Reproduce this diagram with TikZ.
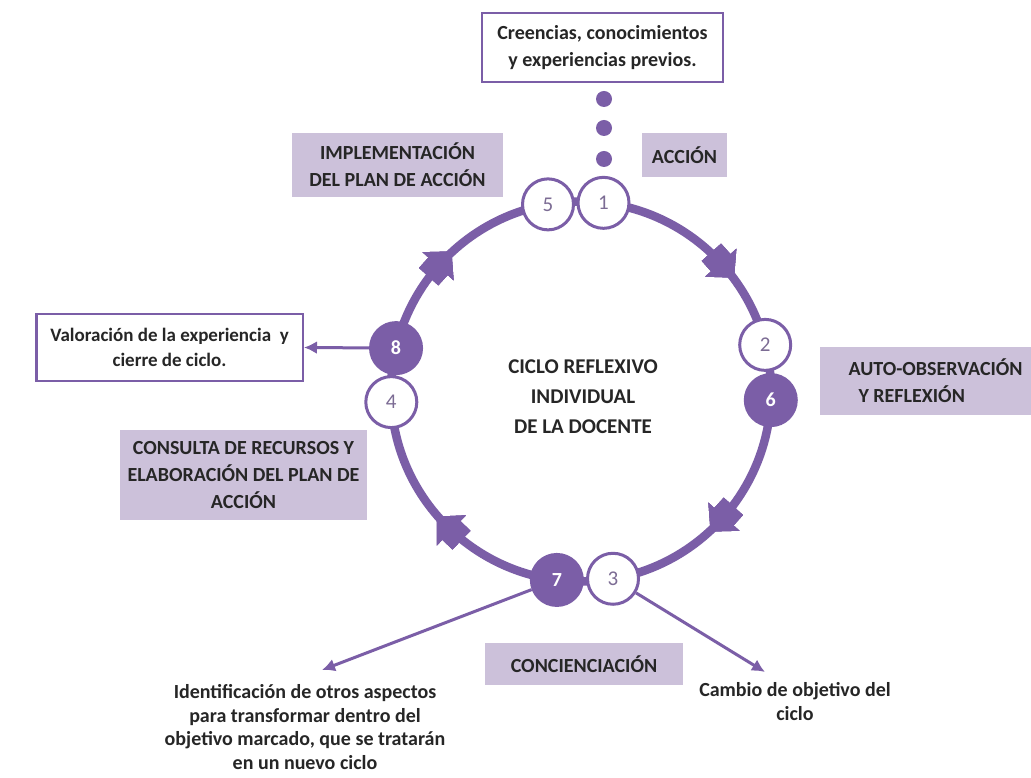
\documentclass[tikz,border=0pt]{standalone}
\usepackage{fontspec}
\setmainfont{Carlito}
\usetikzlibrary{arrows.meta,decorations.markings}
\definecolor{ringc}{HTML}{7B5EA7}
\definecolor{lav}{HTML}{CCC1DA}
\definecolor{txt}{HTML}{262626}
\definecolor{numc}{HTML}{7C6C94}
\begin{document}
\begin{tikzpicture}[x=1pt,y=1pt,
  lbl/.style={font=\fontsize{20}{27}\selectfont\bfseries, text=txt, align=center},
  tag/.style={lbl, fill=lav, inner sep=0pt},
  framed/.style={lbl, draw=ringc, line width=2.5pt, fill=white, inner sep=0pt},
  stepopen/.style={circle, draw=ringc, line width=3pt, fill=white, minimum size=51pt,
    inner sep=0pt, text=numc, font=\fontsize{21}{24}\selectfont},
  stepfull/.style={circle, draw=ringc, line width=3pt, fill=ringc, minimum size=51pt,
    inner sep=0pt, text=white, font=\fontsize{20}{24}\selectfont\bfseries},
  dotnode/.style={circle, fill=ringc, minimum size=16pt, inner sep=0pt},
  ring/.style={draw=ringc, line width=8.5pt},
  link/.style={draw=ringc, line width=3pt, -{Latex[length=13pt,width=13pt]}},
  % block arrow head laid along the ring, pointing in the drawing direction
  turn/.style={postaction=decorate, decoration={markings,
    mark=at position #1 with {\fill[ringc] (17pt,0pt) -- (-3pt,21pt) -- (-3pt,13pt)
      -- (-17pt,13pt) -- (-17pt,-13pt) -- (-3pt,-13pt) -- (-3pt,-21pt) -- cycle;}}},
]
% canvas
\fill[white] (0,0) rectangle (1031,778);
\useasboundingbox (0,0) rectangle (1031,778);

% centre of the cycle
\coordinate (C) at (581,386.5);

% the cycle ring, drawn clockwise from the top, with its four turning heads
\draw[ring, turn=0.134, turn=0.367, turn=0.622, turn=0.867]
  ([shift={(90:190pt)}]C) arc[start angle=90, end angle=-270, radius=190pt];

% stages on the ring
\node[stepopen] (s5) at ([shift={(100:190pt)}]C) {5};
\node[stepopen] (s1) at ([shift={(83.2:190pt)}]C) {1};
\node[stepopen] (s2) at ([shift={(14.2:190pt)}]C) {2};
\node[stepfull] (s6) at ([shift={(-2.6:190pt)}]C) {6};
\node[stepopen] (s3) at ([shift={(279.7:190pt)}]C) {3};
\node[stepfull] (s7) at ([shift={(262.7:190pt)}]C) {7};
\node[stepopen] (s4) at ([shift={(183.2:190pt)}]C) {4};
\node[stepfull] (s8) at ([shift={(166.8:190pt)}]C) {8};

% title in the middle
\node[lbl, font=\fontsize{21}{30}\selectfont\bfseries] (title) at (583,381)
  {CICLO REFLEXIVO\\INDIVIDUAL\\DE LA DOCENTE};

% prior beliefs box and its dotted lead-in
\node[framed, minimum width=241pt, minimum height=69pt] (prior) at (602.5,730.5)
  {Creencias, conocimientos\\y experiencias previos.};
\node[dotnode] (d1) at (604,679) {};
\node[dotnode] (d2) at (604,650) {};
\node[dotnode] (d3) at (604,619) {};

% phase labels
\node[tag, minimum width=211pt, minimum height=64pt] (impl) at (397.5,613)
  {IMPLEMENTACIÓN\\DEL PLAN DE ACCIÓN};
\node[tag, minimum width=85pt, minimum height=44pt] (accion) at (684.5,623) {ACCIÓN};
\fill[lav] (820,363) rectangle (1031,431);
\node[lbl, align=left, anchor=west] (auto) at (845,397)
  {AUTO-OBSERVACIÓN\\\hspace*{10pt}Y REFLEXIÓN};
\node[tag, minimum width=247pt, minimum height=90pt] (consulta) at (243.5,303)
  {CONSULTA DE RECURSOS Y\\ELABORACIÓN DEL PLAN DE\\ACCIÓN};
\node[tag, minimum width=198pt, minimum height=42pt] (concien) at (584,114)
  {CONCIENCIACIÓN};

% closing of the cycle
\node[framed, anchor=east, minimum height=67pt, inner xsep=14pt,
  font=\fontsize{19}{25}\selectfont\bfseries] (valor) at (304,430.5)
  {Valoración de la experiencia\ \ y\\cierre de ciclo.};
\draw[link] (s8) -- (valor.east);

% outcomes of awareness
\coordinate (tipL) at (322,108);
\coordinate (tipR) at (765,106);
\draw[link] (s7) -- (tipL);
\draw[link] (s3) -- (tipR);
\node[lbl, font=\fontsize{20}{23.5}\selectfont\bfseries] (otros) at (305,51)
  {Identificación de otros aspectos\\para transformar dentro del\\objetivo marcado, que se tratarán\\en un nuevo ciclo};
\node[lbl, font=\fontsize{20}{23.5}\selectfont\bfseries] (cambio) at (795,76.5)
  {Cambio de objetivo del\\ciclo};
\end{tikzpicture}
\end{document}
